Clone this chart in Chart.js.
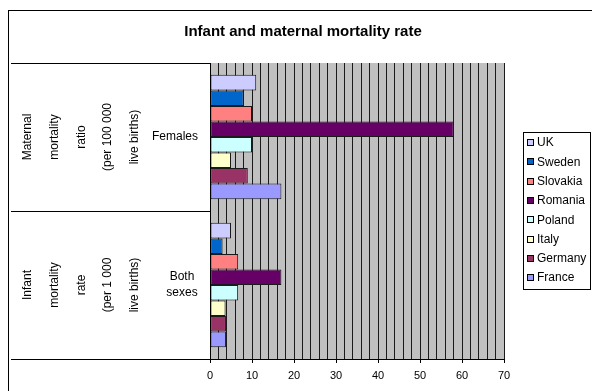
<!DOCTYPE html>
<html>
<head>
<meta charset="utf-8">
<script src="https://cdn.jsdelivr.net/npm/chart.js@4/dist/chart.umd.min.js"></script>
<style>
  html, body { margin: 0; padding: 0; background: #fff; }
  #wrap { width: 592px; height: 391px; }
</style>
</head>
<body>
<div id="wrap"><canvas id="c" width="592" height="391"></canvas></div>
<script>
// Indicator groups (outer label) and their breakdown (inner category)
const categories = ['Females', 'Both sexes'];
const groupLabels = [
  ['Maternal', 'mortality', 'ratio', '(per 100 000', 'live births)'],
  ['Infant', 'mortality', 'rate', '(per 1 000', 'live births)']
];
const countries = ['UK', 'Sweden', 'Slovakia', 'Romania', 'Poland', 'Italy', 'Germany', 'France'];
// Maternal mortality ratio (per 100 000 live births)
const females = [11, 8, 10, 58, 10, 5, 9, 17];
// Infant mortality rate (per 1 000 live births)
const bothSexes = [5, 3, 6.7, 17, 6.7, 3.7, 3.8, 3.8];
const xTicks = [0, 10, 20, 30, 40, 50, 60, 70];

const colors = ['#CCCCFF', '#0066CC', '#FF8080', '#660066', '#CCFFFF', '#FFFFCC', '#993366', '#9999FF'];
const FONT = '"Liberation Sans", Arial, Helvetica, sans-serif';

const datasets = countries.map((name, i) => ({
  label: name,
  data: [females[i], bothSexes[i]],
  backgroundColor: colors[i],
  borderColor: '#1a1a1a',
  borderWidth: 1,
  borderSkipped: false,
  categoryPercentage: 0.84,
  barPercentage: 1.0
}));

const decorations = {
  id: 'decorations',
  beforeDraw(chart) {
    const { ctx, chartArea: a } = chart;
    ctx.save();
    ctx.fillStyle = '#fff';
    ctx.fillRect(0, 0, chart.width, chart.height);
    ctx.fillStyle = '#C0C0C0';
    ctx.fillRect(a.left, a.top, a.right - a.left, a.bottom - a.top);
    ctx.restore();
  },
  afterDraw(chart) {
    const { ctx, chartArea: a } = chart;
    const y = chart.scales.y;
    ctx.save();

    // outer chart frame
    ctx.strokeStyle = '#000';
    ctx.lineWidth = 1;
    ctx.strokeRect(8.5, 10.5, 700, 500);

    // title
    ctx.fillStyle = '#000';
    ctx.font = 'bold 15px ' + FONT;
    ctx.textAlign = 'center';
    ctx.textBaseline = 'middle';
    ctx.fillText('Infant and maternal mortality rate', 303, 32);

    // category frame on the left
    const n = categories.length;
    const band = (a.bottom - a.top) / n;
    ctx.strokeStyle = '#000';
    ctx.beginPath();
    for (let i = 0; i <= n; i++) {
      const yy = Math.round(a.top + band * i) + 0.5;
      ctx.moveTo(11, yy);
      ctx.lineTo(a.left, yy);
    }
    ctx.moveTo(Math.round(a.left) + 0.5, a.top);
    ctx.lineTo(Math.round(a.left) + 0.5, a.bottom);
    ctx.stroke();

    // labels
    ctx.font = '12px ' + FONT;
    ctx.fillStyle = '#000';
    const colX = [28, 55, 82, 108, 135];
    categories.forEach((cat, i) => {
      const cy = y.getPixelForValue(i);
      groupLabels[i].forEach((line, j) => {
        ctx.save();
        ctx.translate(colX[j], cy);
        ctx.rotate(-Math.PI / 2);
        ctx.textAlign = 'center';
        ctx.textBaseline = 'middle';
        ctx.fillText(line, 0, 0);
        ctx.restore();
      });
      ctx.textAlign = 'center';
      ctx.textBaseline = 'middle';
      const words = cat.split(' ');
      if (words.length === 1) {
        ctx.fillText(cat, 175, cy);
      } else {
        words.forEach((w, k) => ctx.fillText(w, 182, cy - 8 + k * 16));
      }
    });

    // legend
    const lx = 523.5, ly = 132.5, lw = 67, lh = 157;
    ctx.fillStyle = '#fff';
    ctx.fillRect(lx, ly, lw, lh);
    ctx.strokeStyle = '#000';
    ctx.strokeRect(lx, ly, lw, lh);
    ctx.textAlign = 'left';
    ctx.textBaseline = 'middle';
    chart.data.datasets.forEach((ds, i) => {
      const iy = 143 + i * 19.3;
      ctx.fillStyle = ds.backgroundColor;
      ctx.fillRect(527.5, Math.round(iy) - 3.5, 6, 6);
      ctx.strokeStyle = '#000';
      ctx.strokeRect(527.5, Math.round(iy) - 3.5, 6, 6);
      ctx.fillStyle = '#000';
      ctx.fillText(ds.label, 537, iy);
    });
    ctx.restore();
  }
};

new Chart(document.getElementById('c'), {
  type: 'bar',
  data: { labels: categories, datasets },
  options: {
    indexAxis: 'y',
    responsive: false,
    animation: false,
    devicePixelRatio: 1,
    layout: { padding: { left: 210, right: 88, top: 63, bottom: 0 } },
    plugins: { legend: { display: false }, title: { display: false }, tooltip: { enabled: false } },
    scales: {
      x: {
        min: 0,
        max: 70,
        position: 'bottom',
        afterFit(scale) { scale.height = 32; },
        ticks: {
          stepSize: 2,
          maxTicksLimit: 100,
          autoSkip: false,
          maxRotation: 0,
          padding: 6,
          color: '#000',
          font: { family: FONT, size: 11 },
          callback: v => (xTicks.includes(v) ? String(v) : '')
        },
        grid: {
          color: '#1a1a1a',
          lineWidth: 1,
          drawTicks: true,
          tickLength: 4,
          tickColor: ctx => (ctx.tick && xTicks.includes(ctx.tick.value) ? '#000' : 'rgba(0,0,0,0)')
        },
        border: { color: '#000', width: 1 }
      },
      y: { display: false }
    }
  },
  plugins: [decorations]
});
</script>
</body>
</html>
